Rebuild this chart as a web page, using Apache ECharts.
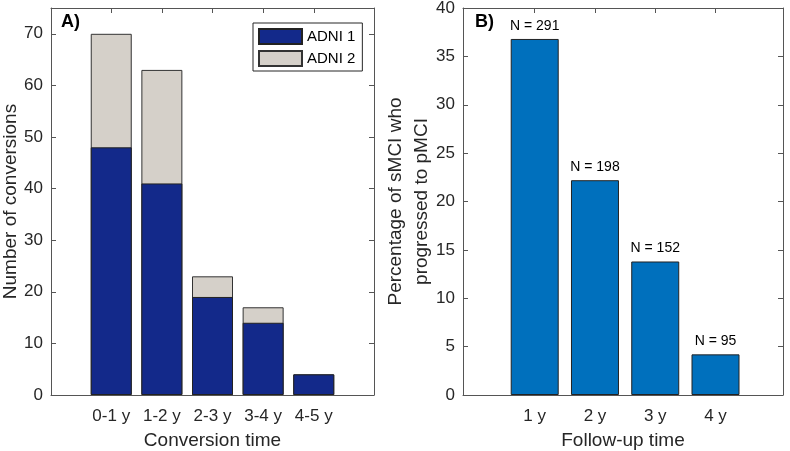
<!DOCTYPE html>
<html><head><meta charset="utf-8">
<script src="https://cdn.jsdelivr.net/npm/echarts@6/dist/echarts.min.js"></script>
<style>html,body{margin:0;padding:0;background:#fff}#c{width:790px;height:451px}</style>
</head><body><div id="c"></div>
<script>
const convCategories = ['0-1 y', '1-2 y', '2-3 y', '3-4 y', '4-5 y'];
const adni1 = [48, 41, 19, 14, 4];
const adni2 = [22, 22, 4, 3, 0];
const followCategories = ['1 y', '2 y', '3 y', '4 y'];
const progressedPct = [36.8, 22.2, 13.8, 4.2];
const followN = [291, 198, 152, 95];
const leftYTicks = [0, 10, 20, 30, 40, 50, 60, 70];
const rightYTicks = [0, 5, 10, 15, 20, 25, 30, 35, 40];

const FONT = 'Liberation Sans';
const TXT = '#262626';
const LINE = '#555555';
const pos1 = convCategories.map((c, i) => i + 1);
const pos2 = followCategories.map((c, i) => i + 1);
// total height of each stacked bar (ADNI 1 drawn over it from zero)
const convTotal = adni1.map((v, i) => v + adni2[i]);

function xAx(gi, mn, mx, ticks, cats, name, top) {
  return {
    type: 'value', gridIndex: gi, min: mn, max: mx, position: top ? 'top' : 'bottom',
    splitLine: {show: false},
    axisLine: {show: true, onZero: false, lineStyle: {color: LINE, width: 1}},
    axisTick: {show: true, inside: true, length: 5, customValues: ticks, lineStyle: {color: LINE}},
    axisLabel: top ? {show: false} : {show: true, customValues: ticks, margin: 13,
      formatter: v => cats[Math.round(v) - 1] || '', color: TXT, fontSize: 17, fontFamily: FONT},
    name: top ? '' : name, nameLocation: 'middle', nameGap: 36, nameMoveOverlap: false,
    nameTextStyle: {color: TXT, fontSize: 19, fontFamily: FONT}
  };
}
function yAx(gi, mx, ticks, name, right, gap, lh) {
  return {
    type: 'value', gridIndex: gi, min: 0, max: mx, position: right ? 'right' : 'left',
    splitLine: {show: false},
    axisLine: {show: true, onZero: false, lineStyle: {color: LINE, width: 1}},
    axisTick: {show: true, inside: true, length: 5, customValues: ticks, lineStyle: {color: LINE}},
    axisLabel: right ? {show: false} : {show: true, customValues: ticks, margin: 8,
      color: TXT, fontSize: 17, fontFamily: FONT},
    name: right ? '' : name, nameLocation: 'middle', nameGap: gap || 30, nameRotate: 90,
    nameMoveOverlap: false,
    nameTextStyle: {color: TXT, fontSize: 19, fontFamily: FONT, lineHeight: lh || 23}
  };
}

const chart = echarts.init(document.getElementById('c'), null, {renderer: 'canvas'});
chart.setOption({
  backgroundColor: '#fff',
  animation: false,
  title: [
    {text: 'A)', left: 61, top: 13, padding: 0, textStyle: {fontSize: 18, fontWeight: 'bold', color: '#000', fontFamily: FONT}},
    {text: 'B)', left: 475, top: 13, padding: 0, textStyle: {fontSize: 18, fontWeight: 'bold', color: '#000', fontFamily: FONT}}
  ],
  legend: {
    data: ['ADNI 1', 'ADNI 2'], orient: 'vertical', left: 253, top: 23, icon: 'rect',
    padding: [5, 7, 4, 5], itemGap: 5, itemWidth: 43, itemHeight: 15,
    borderColor: '#262626', borderWidth: 1, backgroundColor: '#fff',
    textStyle: {color: '#000', fontSize: 15, fontFamily: FONT}
  },
  grid: [
    {left: 51, top: 8, width: 323, height: 387, containLabel: false, outerBoundsMode: 'none'},
    {left: 463, top: 8, width: 320, height: 387, containLabel: false, outerBoundsMode: 'none'}
  ],
  xAxis: [
    xAx(0, -0.19, 6.19, pos1, convCategories, 'Conversion time', false),
    xAx(0, -0.19, 6.19, pos1, convCategories, '', true),
    xAx(1, -0.19, 5.12, pos2, followCategories, 'Follow-up time', false),
    xAx(1, -0.19, 5.12, pos2, followCategories, '', true)
  ],
  yAxis: [
    yAx(0, 75, leftYTicks, 'Number of conversions', false, 29, 23),
    yAx(0, 75, leftYTicks, '', true),
    yAx(1, 40, rightYTicks, 'Percentage of sMCI who\nprogressed to pMCI', false, 28, 26),
    yAx(1, 40, rightYTicks, '', true)
  ],
  series: [
    {name: 'ADNI 2', type: 'bar', xAxisIndex: 0, yAxisIndex: 0, barWidth: 41, barGap: '-100%',
      itemStyle: {color: '#d5d0c9', borderColor: '#333', borderWidth: 1},
      data: convTotal.map((v, i) => [pos1[i], v])},
    {name: 'ADNI 1', type: 'bar', xAxisIndex: 0, yAxisIndex: 0, barWidth: 41, barGap: '-100%',
      itemStyle: {color: '#13298a', borderColor: '#222', borderWidth: 1},
      data: adni1.map((v, i) => [pos1[i], v])},
    {name: 'pct', type: 'bar', xAxisIndex: 2, yAxisIndex: 2, barWidth: 48,
      itemStyle: {color: '#0070bd', borderColor: '#222', borderWidth: 1},
      label: {show: true, position: 'top', distance: 6, color: '#000', fontSize: 14, fontFamily: FONT,
        formatter: p => 'N = ' + followN[p.dataIndex]},
      data: progressedPct.map((v, i) => [pos2[i], v])}
  ]
});
</script></body></html>
